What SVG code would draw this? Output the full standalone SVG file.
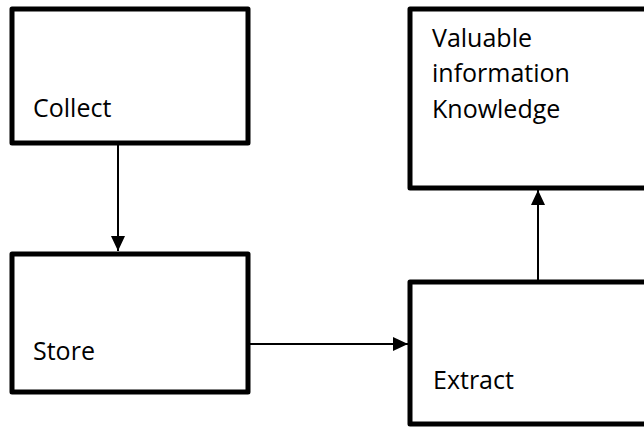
<svg xmlns="http://www.w3.org/2000/svg" width="644" height="427" viewBox="0 0 644 427">
<defs>
<style>
.box{fill:#fff;stroke:#000;stroke-width:5;stroke-linejoin:round}
.lbl{font-family:"Open Sans","Liberation Sans",sans-serif;font-size:25px;fill:#000}
.conn{stroke:#000;stroke-width:2;fill:none}
</style>
<marker id="ah" viewBox="0 0 10 10" refX="10" refY="5" markerWidth="15" markerHeight="14" markerUnits="userSpaceOnUse" orient="auto" preserveAspectRatio="none">
<path d="M0,0 L10,5 L0,10 z" fill="#000"/>
</marker>
</defs>
<rect width="644" height="427" fill="#fff"/>
<g id="collect">
<rect class="box" x="12" y="9" width="236" height="134"/>
<text class="lbl" x="33" y="117">Collect</text>
</g>
<g id="store">
<rect class="box" x="12" y="254" width="236" height="138"/>
<text class="lbl" x="33" y="360">Store</text>
</g>
<g id="valuable">
<rect class="box" x="410" y="9" width="250" height="179"/>
<text class="lbl" x="432" y="47">Valuable</text>
<text class="lbl" x="432" y="82">information</text>
<text class="lbl" x="432" y="118">Knowledge</text>
</g>
<g id="extract">
<rect class="box" x="410" y="282" width="250" height="142"/>
<text class="lbl" x="433" y="389">Extract</text>
</g>
<g id="connectors">
<path class="conn" d="M118,143 L118,251" marker-end="url(#ah)"/>
<path class="conn" d="M248,344 L408,344" marker-end="url(#ah)"/>
<path class="conn" d="M538,282 L538,190" marker-end="url(#ah)"/>
</g>
</svg>
